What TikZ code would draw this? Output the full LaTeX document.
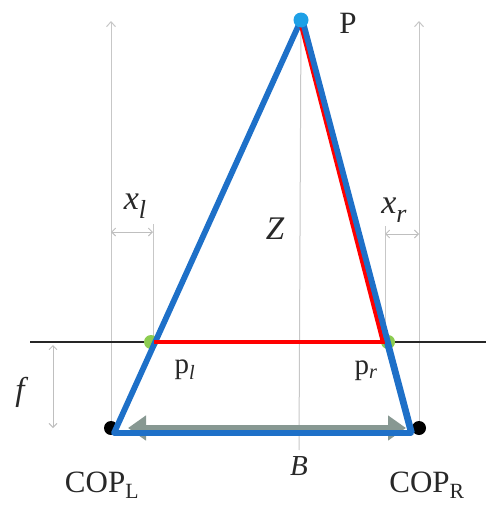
\documentclass[tikz,border=0pt]{standalone}
\usepackage{fontspec}
\setmainfont{Liberation Serif}
\usetikzlibrary{arrows.meta,calc}
\definecolor{rayblue}{RGB}{30,112,200}
\definecolor{basegray}{RGB}{135,152,146}
\definecolor{ptgreen}{RGB}{140,204,80}
\definecolor{ptblue}{RGB}{30,160,230}
\definecolor{txt}{RGB}{40,40,40}
\begin{document}
\begin{tikzpicture}[x=1pt,y=-1pt,
  guide/.style={draw=black!22,line width=1pt},
  dim/.style={draw=black!25,line width=0.9pt,{Straight Barb[length=4pt,width=8pt]}-{Straight Barb[length=4pt,width=8pt]}},
  ray/.style={draw=rayblue,line width=5.8pt,line join=round},
  redl/.style={draw=red,line width=3.8pt},
  lbl/.style={inner sep=0pt,text=txt,font=\fontsize{31}{34}\selectfont},
  ilbl/.style={inner sep=0pt,text=txt,font=\fontsize{34}{36}\selectfont\itshape}]
\useasboundingbox (0,0) rectangle (486,506);
% coordinates
\coordinate (P) at (301,20);
\coordinate (L) at (114,433);
\coordinate (R) at (411,433);
\coordinate (pl) at (151,342);
\coordinate (pr) at (386,342);
\coordinate (LT) at (111,21);
\coordinate (LB) at (111,428);
\coordinate (RT) at (419,21);
\coordinate (RB) at (419,428);
\coordinate (CB) at (299,450);
\coordinate (PLa) at (30,342);
\coordinate (PLb) at (486,342);
% guides
\draw[guide,-{Straight Barb[length=5pt,width=9pt]}] (LB) -- (LT);
\draw[guide,-{Straight Barb[length=5pt,width=9pt]}] (RB) -- (RT);
\draw[guide] (P) -- (CB);
\coordinate (xlt) at (153,224);
\coordinate (xrt) at (385,226);
\coordinate (plg) at (153,342);
\coordinate (prg) at (385,342);
\draw[guide] (plg) -- (xlt);
\draw[guide] (prg) -- (xrt);
\coordinate (xla) at (111,232);
\coordinate (xlb) at (153,232);
\coordinate (xra) at (385,234);
\coordinate (xrb) at (419,234);
\draw[dim] (xla) -- (xlb);
\draw[dim] (xra) -- (xrb);
\coordinate (fa) at (53,345);
\coordinate (fb) at (53,428);
\draw[dim] (fa) -- (fb);
% image plane
\draw[black!85,line width=2pt] (PLa) -- (PLb);
% dots
\fill[black] (LB) circle (7);
\fill[black] (RB) circle (7);
\fill[ptgreen] (pl) circle (7);
\fill[ptgreen] ($(pr)+(2,0)$) circle (7);
% baseline arrow
\coordinate (Ba) at (128,428);
\coordinate (Bb) at (406,428);
\draw[draw=basegray,line width=6pt,{Triangle[length=18pt,width=24pt]}-{Triangle[length=18pt,width=24pt]}] (Ba) -- (Bb);
% rays
\draw[ray] (P) -- (L) -- (R) -- cycle;
\draw[redl] ($(pl)+(3,0)$) -- ($(pr)+(-1,0)$);
\draw[redl] ($(P)+(-1.5,0)$) -- ($(pr)+(-3.5,-1)$);
\draw[ray] ($(P)+(2,2)$) -- ($(R)+(1,0)$);
\fill[ptblue] (P) circle (7.5);
% labels
\node[lbl] (Plab) at (348,23) {P};
\node[ilbl] (xl) at (135,206) {x\raisebox{-9pt}{\fontsize{26}{26}\selectfont l}};
\node[ilbl,font=\fontsize{33}{35}\selectfont\itshape] (Z) at (275,229) {Z};
\node[ilbl] (xr) at (394,210) {x\raisebox{-9pt}{\fontsize{26}{26}\selectfont r}};
\node[lbl,font=\fontsize{29}{31}\selectfont] (pll) at (185,370) {p\textsubscript{\itshape l}};
\node[lbl,font=\fontsize{29}{31}\selectfont] (prl) at (366,371) {p\textsubscript{\itshape r}};
\node[ilbl,font=\fontsize{33}{35}\selectfont\itshape] (f) at (20,392) {f};
\node[ilbl,font=\fontsize{29}{31}\selectfont\itshape] (B) at (299,466) {B};
\node[lbl] (copl) at (102,485) {COP\textsubscript{L}};
\node[lbl] (copr) at (427,485) {COP\textsubscript{R}};
\end{tikzpicture}
\end{document}
